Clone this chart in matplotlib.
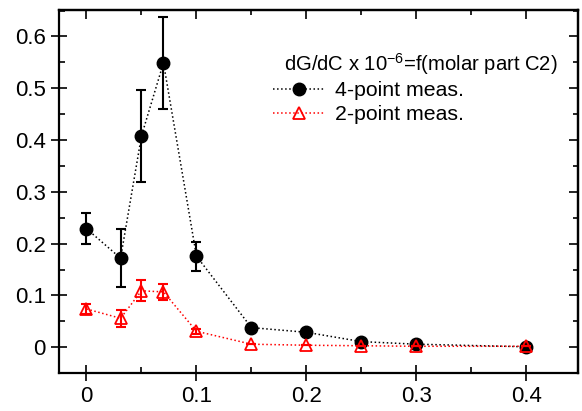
import matplotlib
matplotlib.use("Agg")
import matplotlib.pyplot as plt
from matplotlib.ticker import MultipleLocator

plt.rcParams['font.family'] = ['Liberation Sans', 'DejaVu Sans']
plt.rcParams['mathtext.fontset'] = 'custom'
plt.rcParams['mathtext.rm'] = 'Liberation Sans'
plt.rcParams['mathtext.it'] = 'Liberation Sans:italic'

x4 = [0.0, 0.031, 0.05, 0.07, 0.1, 0.15, 0.2, 0.25, 0.3, 0.4]
y4 = [0.229, 0.172, 0.408, 0.549, 0.176, 0.038, 0.029, 0.011, 0.006, 0.001]
e4 = [0.030, 0.056, 0.088, 0.089, 0.028, 0.0, 0.0, 0.0, 0.0, 0.0]

x2 = [0.0, 0.031, 0.05, 0.07, 0.1, 0.15, 0.2, 0.25, 0.3, 0.4]
y2 = [0.074, 0.056, 0.109, 0.107, 0.031, 0.006, 0.004, 0.003, 0.002, 0.002]
e2 = [0.010, 0.016, 0.020, 0.015, 0.005, 0.0, 0.0, 0.0, 0.0, 0.0]

xticks = [0, 0.1, 0.2, 0.3, 0.4]
xticklabels = ['0', '0.1', '0.2', '0.3', '0.4']
yticks = [0, 0.1, 0.2, 0.3, 0.4, 0.5, 0.6]
yticklabels = ['0', '0.1', '0.2', '0.3', '0.4', '0.5', '0.6']

W, H = 582, 411
fig = plt.figure(figsize=(W / 100, H / 100), dpi=100)
ax = fig.add_axes([59 / W, (H - 372.7) / H, (578 - 59) / W, (372.7 - 10) / H])

ax.errorbar(x4, y4, yerr=e4, fmt='none', ecolor='black', elinewidth=1.5,
            capsize=3.7, capthick=1.5, zorder=2)
ax.plot(x4, y4, linestyle=':', color='black', linewidth=1.1, marker='o',
        markersize=9, markerfacecolor='black', markeredgecolor='black',
        label='4-point meas.', zorder=3)
ax.errorbar(x2, y2, yerr=e2, fmt='none', ecolor='red', elinewidth=1.5,
            capsize=3.7, capthick=1.5, zorder=4)
ax.plot(x2, y2, linestyle=':', color='red', linewidth=1.1, marker='^',
        markersize=9, markerfacecolor='none', markeredgecolor='red',
        markeredgewidth=1.3, label='2-point meas.', zorder=5)

ax.set_xlim(-0.025, 0.447)
ax.set_ylim(-0.049, 0.651)
ax.set_xticks(xticks)
ax.set_xticklabels(xticklabels)
ax.set_yticks(yticks)
ax.set_yticklabels(yticklabels)
ax.xaxis.set_minor_locator(MultipleLocator(0.05))
ax.yaxis.set_minor_locator(MultipleLocator(0.05))

for s in ax.spines.values():
    s.set_linewidth(1.6)

ax.tick_params(which='major', direction='inout', length=11, width=1.2,
               labelsize=16, pad=4)
ax.tick_params(which='minor', direction='in', length=4, width=1.2)

secx = ax.secondary_xaxis('top')
secx.set_xticks(xticks)
secx.xaxis.set_minor_locator(MultipleLocator(0.05))
secx.tick_params(which='major', direction='in', length=6.5, width=1.2, labeltop=False)
secx.tick_params(which='minor', direction='in', length=3.5, width=1.2)
secx.spines['top'].set_linewidth(1.6)
secy = ax.secondary_yaxis('right')
secy.set_yticks(yticks)
secy.yaxis.set_minor_locator(MultipleLocator(0.05))
secy.tick_params(which='major', direction='in', length=6.5, width=1.2, labelright=False)
secy.tick_params(which='minor', direction='in', length=3.5, width=1.2)
secy.spines['right'].set_linewidth(1.6)

fig.text(284 / W, (H - 71) / H, 'dG/dC x 10$^{-6}$=f(molar part C2)',
         fontsize=14.6, ha='left', va='baseline')

leg = ax.legend(loc='upper left', bbox_to_anchor=(273 / W, (H - 81) / H),
                bbox_transform=fig.transFigure, frameon=False, fontsize=15.3,
                handlelength=2.4, handletextpad=0.5, borderaxespad=0,
                borderpad=0, labelspacing=0.25)

fig.savefig('out.png', dpi=100)
